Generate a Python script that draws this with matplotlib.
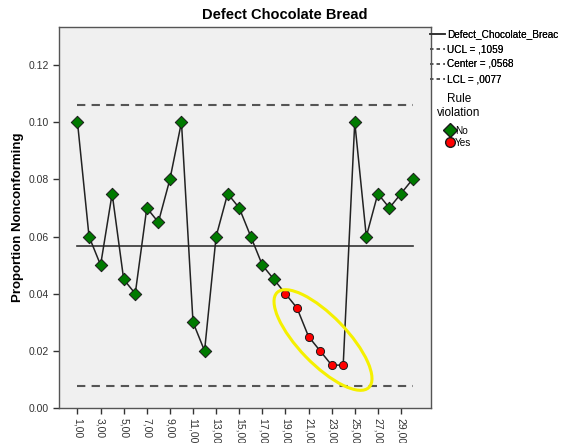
import matplotlib
matplotlib.use("Agg")
from matplotlib import pyplot as plt
from matplotlib.lines import Line2D
from matplotlib.patches import Ellipse

plt.rcParams['font.family'] = ['Liberation Sans', 'DejaVu Sans']

samples = list(range(1, 31))
proportion = [0.100, 0.060, 0.050, 0.075, 0.045, 0.040, 0.070, 0.065, 0.080, 0.100,
              0.030, 0.020, 0.060, 0.075, 0.070, 0.060, 0.050, 0.045, 0.040, 0.035,
              0.025, 0.020, 0.015, 0.015, 0.100, 0.060, 0.075, 0.070, 0.075, 0.080]
violation = [False] * 18 + [True] * 6 + [False] * 6
ucl = 0.1059
center = 0.0568
lcl = 0.0077
tick_pos = list(range(1, 30, 2))
tick_labels = ["%d,00" % t for t in tick_pos]

fig = plt.figure(figsize=(5.63, 4.43), dpi=100)
ax = fig.add_axes([59 / 563, 35 / 443, 372 / 563, 381 / 443])
ax.set_facecolor("#f0f0f0")
for s in ax.spines.values():
    s.set_color("#555555")
    s.set_linewidth(1.0)

# control limits
ax.plot([samples[0], samples[-1]], [ucl, ucl], color="#555555", lw=1.5, ls=(0, (4, 3)))
ax.plot([samples[0], samples[-1]], [lcl, lcl], color="#555555", lw=1.5, ls=(0, (4, 3)))
ax.plot([samples[0], samples[-1]], [center, center], color="#333333", lw=1.2)

ax.plot(samples, proportion, color="#222222", lw=1.1, zorder=2)
no_x = [x for x, v in zip(samples, violation) if not v]
no_y = [y for y, v in zip(proportion, violation) if not v]
yes_x = [x for x, v in zip(samples, violation) if v]
yes_y = [y for y, v in zip(proportion, violation) if v]
ax.scatter(no_x, no_y, marker="D", s=40, color="#007a00", edgecolor="#1a1a1a", lw=0.7, zorder=3)
ax.scatter(yes_x, yes_y, marker="o", s=34, color="#ff0000", edgecolor="#1a1a1a", lw=0.7, zorder=3)

# highlight ellipse (pixel position of the hand-drawn mark)
ell = Ellipse((3.23, 4.43 - 3.40), 1.32, 0.48, angle=-46, fill=False,
              edgecolor="#f5f000", lw=2.2, transform=fig.dpi_scale_trans, zorder=4)
fig.add_artist(ell)

ax.set_xlim(-0.6, 31.6)
ax.set_ylim(0, 0.1333)
ax.set_yticks([0, 0.02, 0.04, 0.06, 0.08, 0.10, 0.12])
ax.set_yticklabels(["0.00", "0.02", "0.04", "0.06", "0.08", "0.10", "0.12"])
ax.set_xticks(tick_pos)
ax.set_xticklabels(tick_labels, rotation=-90)
ax.tick_params(axis="both", labelsize=7.5, colors="#333333", length=4, width=1)
ax.set_ylabel("Proportion Nonconforming", fontsize=9.5, fontweight="bold", labelpad=3)

fig.text(285 / 563, 1 - 15 / 443, "Defect Chocolate Bread", ha="center", va="center",
         fontsize=10.5, fontweight="bold")

h1 = [Line2D([], [], color="#333333", lw=1.2),
      Line2D([], [], color="#555555", lw=1.2, ls=(0, (2, 2))),
      Line2D([], [], color="#555555", lw=1.2, ls=(0, (2, 2))),
      Line2D([], [], color="#555555", lw=1.2, ls=(0, (2, 2)))]
l1 = fig.legend(h1, ["Defect_Chocolate_Breac", "UCL = ,1059", "Center = ,0568", "LCL = ,0077"],
                loc="upper left", bbox_to_anchor=(430 / 563, 1 - 29 / 443), frameon=False,
                fontsize=7.2, handlelength=1.5, handletextpad=0.2, labelspacing=0.5,
                borderaxespad=0, borderpad=0)
fig.add_artist(l1)
h2 = [Line2D([], [], marker="D", ls="", color="#007a00", markeredgecolor="#1a1a1a", markersize=7),
      Line2D([], [], marker="o", ls="", color="#ff0000", markeredgecolor="#1a1a1a", markersize=7)]
l2 = fig.legend(h2, ["No", "Yes"], title="Rule\nviolation", title_fontsize=8.5,
                loc="upper left", bbox_to_anchor=(437 / 563, 1 - 93 / 443), frameon=False,
                fontsize=7.2, handlelength=0.8, handletextpad=0.1, labelspacing=0.2,
                borderaxespad=0, borderpad=0)
l2.get_title().set_multialignment("center")
l2._legend_box.sep = 5

fig.savefig("out.png", dpi=100)
